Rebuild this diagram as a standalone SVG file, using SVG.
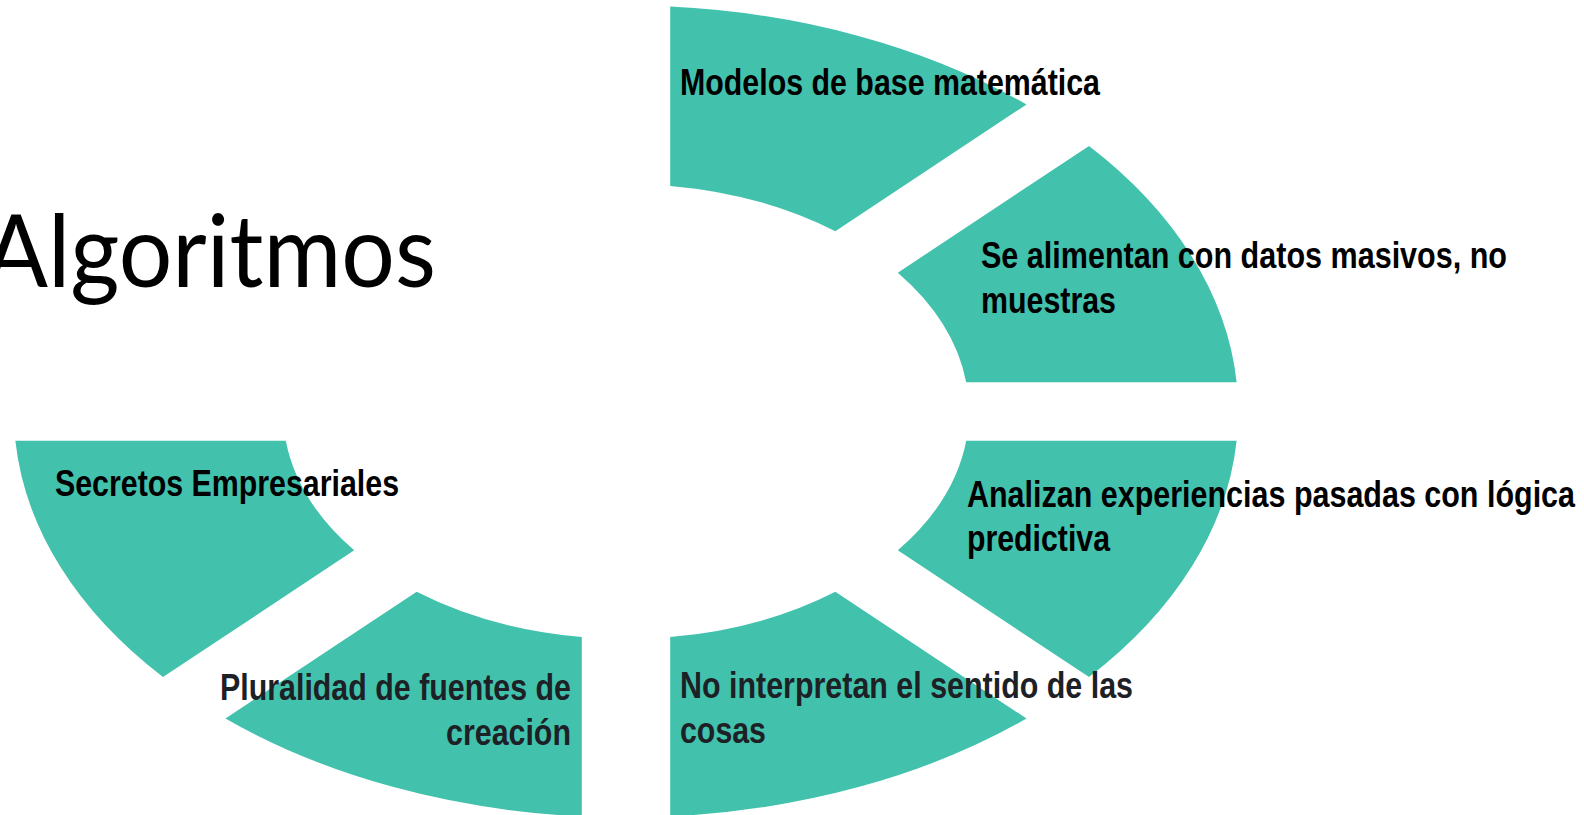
<svg xmlns="http://www.w3.org/2000/svg" width="1584" height="815" viewBox="0 0 1584 815">
  <style>
    .seg { fill: #42C2AD; stroke: none; }
    .lbl { font-family: "Liberation Sans", Arial, sans-serif; font-weight: bold; font-size: 37px; fill: #000000; }
    .dk { fill: #1D2125; }
    .title { font-family: Lato, "Open Sans", sans-serif; font-size: 100px; fill: #000000; }
  </style>
  <rect x="0" y="0" width="1584" height="815" fill="#FFFFFF"/>
  <g id="title">
    <text class="title" x="-16" y="287" textLength="452" lengthAdjust="spacingAndGlyphs">Algoritmos</text>
  </g>
  <g id="connectors"></g>
  <g id="node-modelos">
    <path class="seg" transform="translate(626,411.5) scale(1.508,1)" d="M29.3,-404.94 A406,406 0 0 1 265.61,-307.05 L138.8,-180.24 A227.5,227.5 0 0 0 29.3,-225.6 Z"/>
    <text class="lbl" x="680" y="95" textLength="420" lengthAdjust="spacingAndGlyphs">Modelos de base matemática</text>
  </g>
  <g id="node-alimentan">
    <path class="seg" transform="translate(626,411.5) scale(1.508,1)" d="M307.05,-265.61 A406,406 0 0 1 404.94,-29.3 L225.6,-29.3 A227.5,227.5 0 0 0 180.24,-138.8 Z"/>
    <text class="lbl" x="981" y="268" textLength="526" lengthAdjust="spacingAndGlyphs">Se alimentan con datos masivos, no</text>
    <text class="lbl" x="981" y="313" textLength="135" lengthAdjust="spacingAndGlyphs">muestras</text>
  </g>
  <g id="node-analizan">
    <path class="seg" transform="translate(626,411.5) scale(1.508,1)" d="M404.94,29.3 A406,406 0 0 1 307.05,265.61 L180.24,138.8 A227.5,227.5 0 0 0 225.6,29.3 Z"/>
    <text class="lbl" x="967" y="507" textLength="608" lengthAdjust="spacingAndGlyphs">Analizan experiencias pasadas con lógica</text>
    <text class="lbl" x="967" y="551" textLength="143" lengthAdjust="spacingAndGlyphs">predictiva</text>
  </g>
  <g id="node-interpretan">
    <path class="seg" transform="translate(626,411.5) scale(1.508,1)" d="M265.61,307.05 A406,406 0 0 1 29.3,404.94 L29.3,225.6 A227.5,227.5 0 0 0 138.8,180.24 Z"/>
    <text class="lbl dk" x="680" y="698" textLength="453" lengthAdjust="spacingAndGlyphs">No interpretan el sentido de las</text>
    <text class="lbl dk" x="680" y="743" textLength="86" lengthAdjust="spacingAndGlyphs">cosas</text>
  </g>
  <g id="node-pluralidad">
    <path class="seg" transform="translate(626,411.5) scale(1.508,1)" d="M-29.3,404.94 A406,406 0 0 1 -265.61,307.05 L-138.8,180.24 A227.5,227.5 0 0 0 -29.3,225.6 Z"/>
    <text class="lbl dk" x="571" y="700" text-anchor="end" textLength="351" lengthAdjust="spacingAndGlyphs">Pluralidad de fuentes de</text>
    <text class="lbl dk" x="571" y="745" text-anchor="end" textLength="125" lengthAdjust="spacingAndGlyphs">creación</text>
  </g>
  <g id="node-secretos">
    <path class="seg" transform="translate(626,411.5) scale(1.508,1)" d="M-307.05,265.61 A406,406 0 0 1 -404.94,29.3 L-225.6,29.3 A227.5,227.5 0 0 0 -180.24,138.8 Z"/>
    <text class="lbl" x="55" y="496" textLength="344" lengthAdjust="spacingAndGlyphs">Secretos Empresariales</text>
  </g>
</svg>
